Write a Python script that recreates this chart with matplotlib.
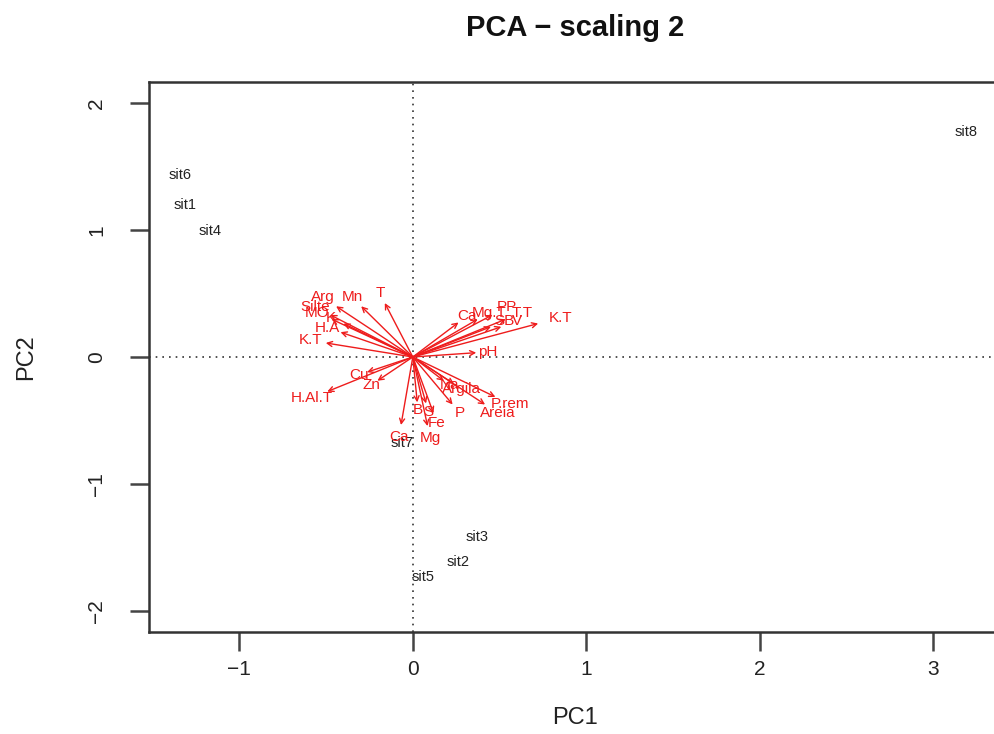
import matplotlib
matplotlib.use("Agg")
import matplotlib.pyplot as plt

plt.rcParams['font.family'] = ['Liberation Sans', 'DejaVu Sans']

# Site scores (scaling 2)
sites = ["sit1", "sit2", "sit3", "sit4", "sit5", "sit6", "sit7", "sit8"]
site_pc1 = [-1.31, 0.26, 0.37, -1.17, 0.06, -1.34, -0.06, 3.19]
site_pc2 = [1.20, -1.61, -1.42, 0.99, -1.73, 1.43, -0.68, 1.77]

# Variable scores (scaling 2)
variables = ["Arg", "Mn", "T", "Silte", "MO", "K", "H.A", "K.T",
             "Cu", "Zn", "H.Al.T",
             "Ca", "Mg.T", "PP", "T.T", "SB", "V", "K.T", "pH",
             "Na", "Argila", "P.rem", "P", "Areia", "B", "S", "Fe", "Ca", "Mg"]
var_pc1 = [-0.52, -0.35, -0.19, -0.56, -0.55, -0.47, -0.49, -0.59,
           -0.31, -0.24, -0.58,
           0.31, 0.44, 0.54, 0.63, 0.53, 0.60, 0.85, 0.43,
           0.21, 0.28, 0.56, 0.27, 0.49, 0.03, 0.09, 0.14, -0.08, 0.10]
var_pc2 = [0.47, 0.47, 0.50, 0.39, 0.35, 0.31, 0.23, 0.13,
           -0.14, -0.22, -0.32,
           0.32, 0.35, 0.39, 0.35, 0.28, 0.28, 0.31, 0.04,
           -0.22, -0.25, -0.37, -0.44, -0.44, -0.42, -0.43, -0.52, -0.63, -0.64]

W, H = 994, 734
fig = plt.figure(figsize=(W / 100, H / 100), dpi=100)

x_min, x_max = -1.52, 3.45
y_min, y_max = -2.165, 2.165
left_px, right_px = 149, 413 + 3.45 * 173.5
top_px, bottom_px = 82, 632
ax = fig.add_axes([left_px / W, 1 - bottom_px / H,
                   (right_px - left_px) / W, (bottom_px - top_px) / H])
ax.set_xlim(x_min, x_max)
ax.set_ylim(y_min, y_max)

# Reference lines through the origin
ax.axhline(0, color="#333333", lw=1.2, ls=(0, (1, 3)), zorder=1)
ax.axvline(0, color="#333333", lw=1.2, ls=(0, (1, 3)), zorder=1)

# Site labels
for name, x, y in zip(sites, site_pc1, site_pc2):
    ax.text(x, y, name, ha="center", va="center", fontsize=10.5,
            color="#222222", zorder=3)

# Variable arrows (drawn to 85% of the score) and labels
red = "#ee1c1c"
for name, x, y in zip(variables, var_pc1, var_pc2):
    ax.annotate("", xy=(0.85 * x, 0.85 * y), xytext=(0, 0),
                arrowprops=dict(arrowstyle="->", color=red, lw=1.0,
                                mutation_scale=9, shrinkA=0, shrinkB=0),
                zorder=2)
    ax.text(x, y, name, ha="center", va="center", fontsize=11,
            color=red, zorder=4)

for side in ["left", "bottom", "top", "right"]:
    ax.spines[side].set_linewidth(1.8)
    ax.spines[side].set_color("#333333")

ax.set_xticks([-1, 0, 1, 2, 3])
ax.set_yticks([-2, -1, 0, 1, 2])
ax.tick_params(direction="out", length=14, width=1.8, color="#444444",
               labelsize=15, labelcolor="#222222")
ax.tick_params(axis="x", pad=6)
ax.tick_params(axis="y", pad=17)
for lbl in ax.get_yticklabels():
    lbl.set_rotation(90)
    lbl.set_va("center")

ax.set_xlabel("PC1", fontsize=17, color="#222222")
ax.set_ylabel("PC2", fontsize=17, color="#222222")
ax.xaxis.set_label_coords((575 - left_px) / (right_px - left_px),
                          (bottom_px - 718) / (bottom_px - top_px))
ax.yaxis.set_label_coords((26 - left_px) / (right_px - left_px), 0.5)
ax.xaxis.label.set_va("center")
ax.yaxis.label.set_va("center")

fig.text(575 / W, 1 - 28 / H, "PCA \u2212 scaling 2", ha="center", va="center",
         fontsize=21, fontweight="bold", color="#111111")

fig.savefig("out.png", dpi=100)
